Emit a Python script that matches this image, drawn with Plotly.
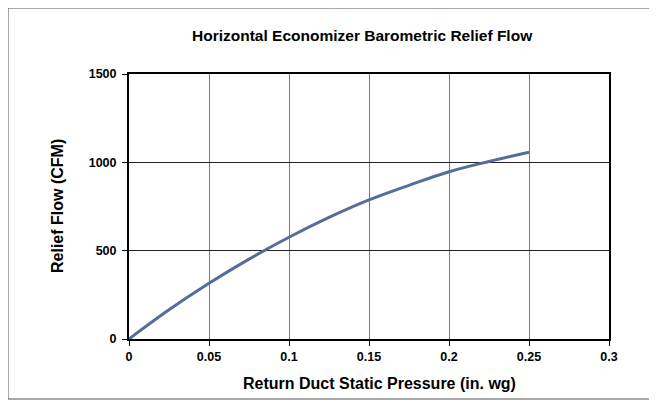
import plotly.graph_objects as go

pressure = [0, 0.025, 0.05, 0.075, 0.1, 0.125, 0.15, 0.175, 0.2, 0.225, 0.25]
relief_flow = [0, 165, 315, 452, 576, 688, 787, 870, 947, 1005, 1057]

x_ticks = [0, 0.05, 0.1, 0.15, 0.2, 0.25, 0.3]
x_tick_labels = ["0", "0.05", "0.1", "0.15", "0.2", "0.25", "0.3"]
y_ticks = [0, 500, 1000, 1500]
y_tick_labels = ["0", "500", "1000", "1500"]

title = "Horizontal Economizer Barometric Relief Flow"
x_title = "Return Duct Static Pressure (in. wg)"
y_title = "Relief Flow (CFM)"

FONT = "Liberation Sans, Arial, sans-serif"

# page body has an 8px margin; work in window pixels and shift by OFF
OFF = 8
WIN_W, WIN_H = 657, 405
W, H = WIN_W - OFF, WIN_H - OFF
PL, PR, PT, PB = 129, 609, 74, 339   # plot area in window pixels
L, T = PL - OFF, PT - OFF
R, B = (WIN_W - PR), (WIN_H - PB)
pw, ph = W - L - R, H - T - B

def px_x(p):
    return (p - OFF - L) / pw

def px_y(p):
    return (H - B - (p - OFF)) / ph

fig = go.Figure()
fig.add_trace(go.Scatter(
    x=pressure, y=relief_flow, mode="lines",
    line=dict(color="#546d9a", width=3, shape="spline"),
    hoverinfo="skip", showlegend=False,
))

tick_font = dict(family=FONT, size=12.5, color="black", weight="bold")

fig.update_layout(
    width=W, height=H,
    margin=dict(l=L, r=R, t=T, b=B, pad=0),
    paper_bgcolor="white", plot_bgcolor="white",
    font=dict(family=FONT, size=12, color="black"),
    xaxis=dict(
        range=[0, 0.3], tickvals=x_ticks, ticktext=x_tick_labels,
        showgrid=True, gridcolor="#7a7a7a", gridwidth=1,
        showline=True, linecolor="black", linewidth=2, mirror=True,
        ticks="outside", ticklen=5, tickcolor="black", tickwidth=1,
        zeroline=False, tickfont=tick_font,
    ),
    yaxis=dict(
        range=[0, 1500], tickvals=y_ticks, ticktext=y_tick_labels,
        showgrid=True, gridcolor="#222222", gridwidth=1,
        showline=True, linecolor="black", linewidth=2, mirror=True,
        ticks="outside", ticklen=5, tickcolor="black", tickwidth=1,
        zeroline=False, tickfont=tick_font, ticklabelstandoff=3,
    ),
    annotations=[
        dict(text="<b>" + title + "</b>", xref="paper", yref="paper",
             x=px_x(362), y=px_y(35), showarrow=False,
             font=dict(family=FONT, size=15.5, color="black"),
             xanchor="center", yanchor="middle"),
        dict(text="<b>" + x_title + "</b>", xref="paper", yref="paper",
             x=px_x(379), y=px_y(383), showarrow=False,
             font=dict(family=FONT, size=16, color="black"),
             xanchor="center", yanchor="middle"),
        dict(text="<b>" + y_title + "</b>", xref="paper", yref="paper",
             x=px_x(57), y=px_y(206), showarrow=False, textangle=-90,
             font=dict(family=FONT, size=16, color="black"),
             xanchor="center", yanchor="middle"),
    ],
    shapes=[
        dict(type="rect", xref="paper", yref="paper",
             x0=px_x(OFF), x1=px_x(651), y0=px_y(399), y1=px_y(OFF),
             line=dict(color="#555555", width=1), layer="below"),
    ],
)

fig.write_html("out.html")
